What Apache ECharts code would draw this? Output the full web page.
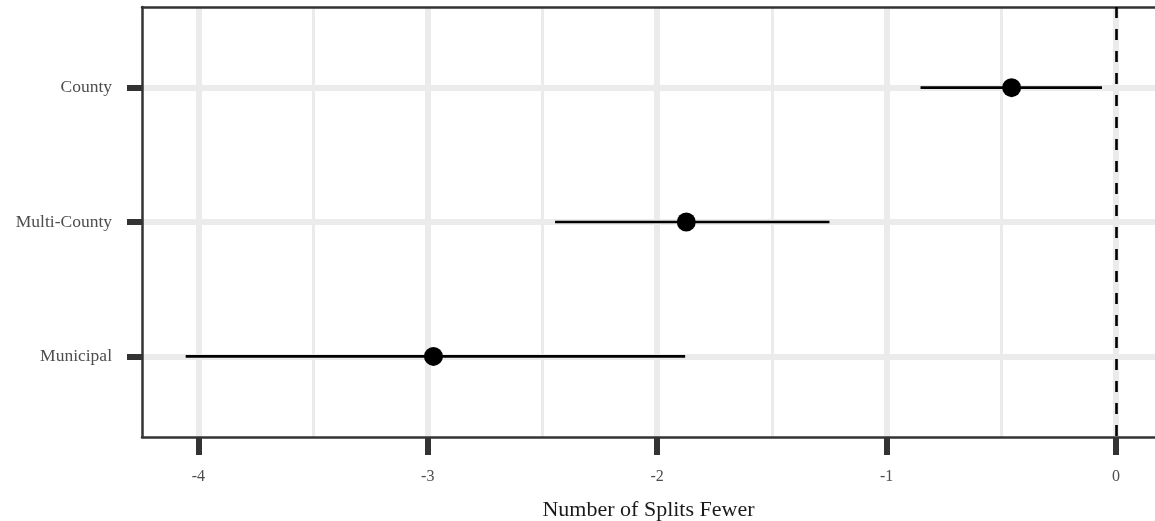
<!DOCTYPE html>
<html>
<head>
<meta charset="utf-8">
<script src="https://cdn.jsdelivr.net/npm/echarts@6/dist/echarts.min.js"></script>
<style>html,body{margin:0;padding:0;background:#fff}#c{width:1155px;height:521px}</style>
</head>
<body>
<div id="c"></div>
<script>
const categories = ['County', 'Multi-County', 'Municipal'];
const estimates = [-0.455, -1.873, -2.975];
const lower = [-0.852, -2.445, -4.055];
const upper = [-0.061, -1.249, -1.878];
const xMajorTicks = [-4, -3, -2, -1, 0];
const xMinorTicks = [-3.5, -2.5, -1.5, -0.5];
const xTitle = 'Number of Splits Fewer';

const FONT = '"Liberation Serif", serif';
const chart = echarts.init(document.getElementById('c'), null, {renderer: 'canvas'});

const catPos = categories.map((c, i) => i + 1);
const barData = categories.map((c, i) => [lower[i], upper[i], i + 1]);
const pointData = categories.map((c, i) => [estimates[i], i + 1]);

const xMin = -4.2454, xMax = 0.170;
const common = {min: xMin, max: xMax};
const borderLine = {show: true, onZero: false, lineStyle: {color: '#333333', width: 2.5}};

chart.setOption({
  animation: false,
  grid: {left: 142, right: 0, top: 7, bottom: 84, show: false, containLabel: false, outerBoundsMode: 'none'},
  xAxis: [
    {type: 'value', ...common, position: 'bottom', z: 4,
     axisLine: borderLine,
     axisTick: {show: true, length: 18, lineStyle: {color: '#333333', width: 6}, customValues: xMajorTicks},
     axisLabel: {show: true, margin: 32, color: '#4d4d4d', fontFamily: FONT, fontSize: 16, customValues: xMajorTicks, formatter: v => String(v)},
     splitLine: {show: true, lineStyle: {color: '#ebebeb', width: 6}},
     name: xTitle, nameLocation: 'middle', nameGap: 62,
     nameTextStyle: {color: '#1a1a1a', fontFamily: FONT, fontSize: 22}
    },
    {type: 'value', ...common, position: 'top', z: 4,
     axisLine: borderLine,
     axisTick: {show: false, customValues: xMinorTicks},
     axisLabel: {show: false, customValues: xMinorTicks},
     splitLine: {show: true, lineStyle: {color: '#ebebeb', width: 3}}
    }
  ],
  yAxis: {
    type: 'value', min: 0.4, max: 3.6, inverse: true, position: 'left', z: 4,
    axisLine: borderLine,
    axisTick: {show: true, length: 15, lineStyle: {color: '#333333', width: 6}, customValues: catPos},
    axisLabel: {show: true, margin: 30, color: '#4d4d4d', fontFamily: FONT, fontSize: 17.5, customValues: catPos, formatter: v => categories[Math.round(v) - 1]},
    splitLine: {show: true, lineStyle: {color: '#ebebeb', width: 6}}
  },
  series: [
    {
      type: 'custom', xAxisIndex: 0, yAxisIndex: 0, z: 5,
      data: barData,
      encode: {x: [0, 1], y: 2},
      renderItem: function (params, api) {
        const p1 = api.coord([api.value(0), api.value(2)]);
        const p2 = api.coord([api.value(1), api.value(2)]);
        return {type: 'line', shape: {x1: p1[0], y1: p1[1], x2: p2[0], y2: p2[1]},
                style: {stroke: '#000', lineWidth: 2.6}};
      }
    },
    {
      type: 'scatter', xAxisIndex: 0, yAxisIndex: 0, z: 6,
      data: pointData, symbol: 'circle', symbolSize: 19,
      itemStyle: {color: '#000', opacity: 1},
      markLine: {
        silent: true, symbol: ['none', 'none'], label: {show: false},
        lineStyle: {color: '#000', width: 2.6, type: [11, 11], opacity: 1},
        data: [{xAxis: 0}]
      }
    }
  ]
});
</script>
</body>
</html>
